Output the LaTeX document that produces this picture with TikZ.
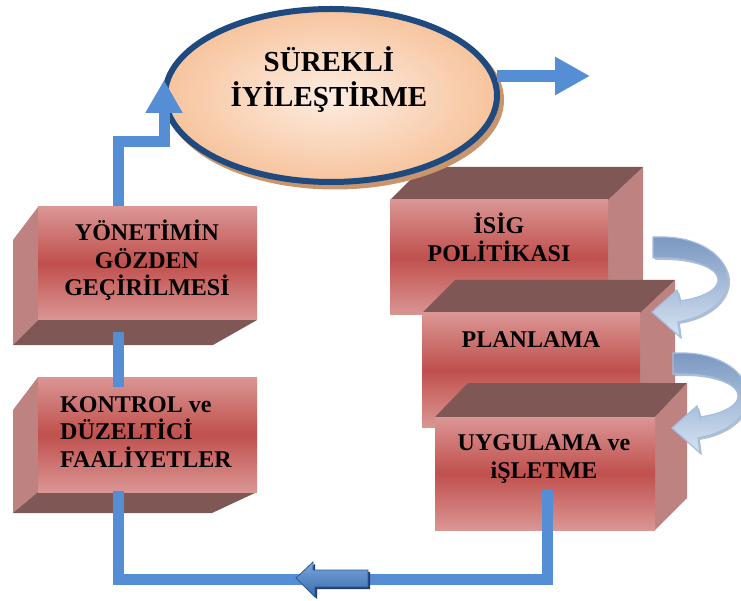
\documentclass[tikz,border=0pt]{standalone}
\usepackage{fontspec}
\setmainfont{Liberation Serif}
\usetikzlibrary{arrows.meta,shapes.geometric}

\definecolor{facelight}{HTML}{DA9694}
\definecolor{facedark}{HTML}{C0504D}
\definecolor{sideface}{HTML}{BE8380}
\definecolor{deepface}{HTML}{7F5755}
\definecolor{flowblue}{HTML}{558ED5}
\definecolor{rimblue}{HTML}{1F4A7F}
\definecolor{peachin}{HTML}{FDEDE2}
\definecolor{peachout}{HTML}{F7C49D}
\definecolor{peachshadow}{HTML}{C8956D}
\definecolor{bendtop}{HTML}{7B98C0}
\definecolor{bendbot}{HTML}{D6E3F3}
\definecolor{bendrim}{HTML}{A3BEE0}
\definecolor{bendshade}{HTML}{7F93B0}
\definecolor{blocktop}{HTML}{78A6E0}
\definecolor{blockbot}{HTML}{3B6AA8}
\definecolor{blockrim}{HTML}{2D5A92}
\definecolor{blockshade}{HTML}{1F3B66}

\tikzset{
  frontface/.style={shade, top color=facelight, bottom color=facelight,
    middle color=facedark, inner sep=0pt, outer sep=0pt},
  sidepoly/.style={fill=sideface},
  deeppoly/.style={fill=deepface},
  boxlabel/.style={font=\bfseries\fontsize{24}{27.5}\selectfont, inner sep=0pt},
  flow/.style={draw=flowblue, line width=11pt, line join=miter},
  pics/bendarrow/.style={code={
    \fill[bendshade, opacity=0.6]
      (655,239) -- plot[domain=-90:76.7, samples=40] ({665+65*cos(\x)},{282+43*sin(\x)})
      -- (682,339) -- (654,314) -- (679,292) -- (682,303)
      -- plot[domain=72:-90, samples=40] ({665+55*cos(\x)},{282+22*sin(\x)})
      -- (655,260) -- cycle;
    \path[draw=bendrim, line width=1.2pt, top color=bendtop, bottom color=bendbot]
      (653,237) -- plot[domain=-90:76.7, samples=40] ({663+65*cos(\x)},{280+43*sin(\x)})
      -- (680,337) -- (652,312) -- (677,290) -- (680,301)
      -- plot[domain=72:-90, samples=40] ({663+55*cos(\x)},{280+22*sin(\x)})
      -- (653,258) -- cycle;
  }}
}

\begin{document}
\begin{tikzpicture}[x=1pt, y=-1pt]
\useasboundingbox (0,0) rectangle (741,601);
\clip (0,0) rectangle (741,601);
\fill[white] (0,0) rectangle (741,601);

% ---- right column of boxes ----
\fill[sidepoly] (608,200) -- (643,167) -- (643,283) -- (608,315) -- cycle;
\fill[deeppoly] (390,200) -- (423,167) -- (643,167) -- (608,200) -- cycle;
\node[frontface, minimum width=218pt, minimum height=115pt] (isig) at (499,257.5) {};

\fill[sidepoly] (640,313) -- (675,280) -- (675,395) -- (640,427) -- cycle;
\fill[deeppoly] (422,313) -- (455,280) -- (675,280) -- (640,313) -- cycle;
\node[frontface, minimum width=218pt, minimum height=114pt] (plan) at (531,370) {};

\fill[sidepoly] (655,417) -- (687,383) -- (687,498) -- (655,530) -- cycle;
\fill[deeppoly] (435,417) -- (468,383) -- (687,383) -- (655,417) -- cycle;
\node[frontface, minimum width=220pt, minimum height=113pt] (uyg) at (545,473.5) {};

% ---- goal ellipse ----
\node[ellipse, fill=peachshadow, minimum width=338pt, minimum height=179pt, inner sep=0pt]
  (goalshadow) at (335,100) {};
\node[ellipse, draw=rimblue, line width=6pt, inner color=peachin, outer color=peachout,
  minimum width=332pt, minimum height=173pt, inner sep=0pt, outer sep=0pt] (goal) at (331,95.5) {};
\node[anchor=base, align=center, inner sep=0pt, font=\bfseries\fontsize{29}{35}\selectfont]
  (goaltxt) at (329,107) {SÜREKLİ\\İYİLEŞTİRME};

% exit arrow
\coordinate (goalout) at (497,76);
\coordinate (exitpt) at (590,76);
\draw[flow, line width=12pt, -{Triangle[length=35pt,width=36pt]}] (goalout) -- (exitpt);

% ---- main feedback loop ----
\coordinate (uygout) at (547,490);
\coordinate (se) at (547,579);
\coordinate (sw) at (118,579);
\coordinate (stepL) at (118,142);
\coordinate (stepR) at (164,142);
\coordinate (goalin) at (164,80);
\draw[flow, -{Triangle[length=33pt,width=35pt]}]
  (uygout) -- (se) -- (sw) -- (stepL) -- (stepR) -- (goalin);

% ---- left column of boxes ----
\fill[sidepoly] (38,207) -- (13,240) -- (13,345) -- (38,320) -- cycle;
\fill[deeppoly] (38,320) -- (257,320) -- (213,345) -- (13,345) -- cycle;
\node[frontface, minimum width=219pt, minimum height=113pt] (yon) at (147.5,263.5) {};

\fill[sidepoly] (38,377) -- (13,410) -- (13,513) -- (38,492) -- cycle;
\fill[deeppoly] (38,492) -- (257,492) -- (212,513) -- (13,513) -- cycle;
\node[frontface, minimum width=219pt, minimum height=115pt] (kon) at (147.5,434.5) {};

% visible pieces of the loop in front of the left boxes
\coordinate (midA) at (118,332);
\coordinate (midB) at (118,387);
\coordinate (lowA) at (118,491);
\draw[flow, line cap=butt] (midA) -- (midB);
\draw[flow, line cap=butt] (lowA) -- (sw);

% ---- labels (anchored at the baseline of their last line) ----
\node[boxlabel, anchor=base, align=center] (yontxt) at (147,296) {YÖNETİMİN\\GÖZDEN\\GEÇİRİLMESİ};
\node[boxlabel, anchor=base west, align=left] (kontxt) at (60,467) {KONTROL ve\\DÜZELTİCİ\\FAALİYETLER};
\node[boxlabel, anchor=base, align=center, font=\bfseries\fontsize{24}{28.5}\selectfont]
  (isigtxt) at (499,262) {İSİG\\POLİTİKASI};
\node[boxlabel, anchor=base] (plantxt) at (531,348) {PLANLAMA};
\node[boxlabel, anchor=base, align=center] (uygtxt) at (544,478) {UYGULAMA ve\\iŞLETME};

% ---- curved step arrows ----
\pic at (0,0) {bendarrow};
\pic at (20,116) {bendarrow};

% ---- block arrow on the bottom run ----
\fill[blockshade] (298,580) -- (315,564) -- (315,572) -- (370,572) -- (370,589)
  -- (317,589) -- (317,599) -- cycle;
\path[draw=blockrim, line width=0.8pt, top color=blocktop, bottom color=blockbot]
  (296,578) -- (313,562) -- (313,570) -- (368,570) -- (368,587)
  -- (315,587) -- (315,597) -- cycle;
\end{tikzpicture}
\end{document}
